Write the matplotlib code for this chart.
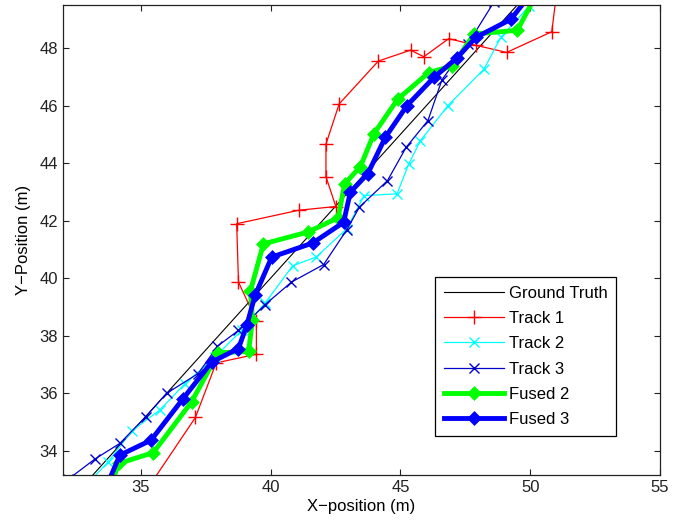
import matplotlib
matplotlib.use("Agg")
import matplotlib.pyplot as plt

plt.rcParams["font.family"] = ["Liberation Sans", "DejaVu Sans"]
plt.rcParams["font.size"] = 12

# ground truth (straight diagonal)
truth_x = [32.0, 51.0]
truth_y = [32.0, 51.0]

track1_x = [35.2, 37.1, 37.9, 39.45, 39.45, 38.76, 38.69, 41.08, 42.51, 42.13, 42.13,
            42.64, 44.15, 45.39, 45.9, 46.86, 47.9, 49.09, 50.83, 51.0]
track1_y = [32.6, 35.15, 37.05, 37.35, 38.52, 39.86, 41.89, 42.36, 42.49, 43.53, 44.66,
            46.06, 47.55, 47.93, 47.7, 48.33, 48.1, 47.85, 48.57, 49.8]

track2_x = [32.9, 33.74, 34.64, 35.73, 36.7, 37.85, 38.9, 39.8, 40.85, 41.75, 42.94,
            43.6, 44.87, 45.32, 45.77, 46.83, 48.22, 48.86, 49.95]
track2_y = [32.8, 33.61, 34.68, 35.41, 36.33, 37.25, 38.2, 39.15, 40.43, 40.73, 41.72,
            42.87, 42.93, 43.97, 44.78, 46.0, 47.27, 48.37, 49.45]

track3_x = [32.2, 33.22, 34.19, 35.18, 35.99, 37.21, 37.95, 38.76, 39.79, 40.8, 42.04,
            42.94, 43.42, 44.5, 45.22, 46.06, 46.6, 47.6, 48.6]
track3_y = [33.0, 33.7, 34.25, 35.17, 35.99, 36.68, 37.63, 38.18, 39.08, 39.86, 40.47,
            41.69, 42.47, 43.39, 44.55, 45.48, 46.9, 48.15, 49.6]

fused2_x = [33.8, 34.15, 35.48, 36.95, 37.98, 39.15, 39.3, 39.22, 39.72, 41.43, 42.6,
            42.85, 43.46, 43.97, 44.89, 46.09, 47.0, 47.83, 49.5, 50.2]
fused2_y = [32.7, 33.55, 33.93, 35.69, 37.4, 37.45, 38.55, 39.55, 41.19, 41.6, 42.1,
            43.28, 43.88, 45.01, 46.22, 47.15, 47.38, 48.49, 48.62, 49.8]

fused3_x = [33.6, 34.19, 35.39, 36.63, 37.73, 38.76, 39.08, 39.4, 40.04, 41.62, 42.81,
            43.07, 43.74, 44.42, 45.25, 46.29, 47.19, 47.9, 49.25, 50.3]
fused3_y = [32.6, 33.84, 34.36, 35.81, 37.08, 37.55, 38.36, 39.4, 40.73, 41.22, 41.94,
            42.99, 43.63, 44.9, 46.0, 46.98, 47.67, 48.37, 49.0, 50.2]

fig = plt.figure(figsize=(6.88, 5.27), dpi=100)
ax = fig.add_axes([0.0916, 0.0987, 0.8677, 0.8918])

ax.plot(truth_x, truth_y, color="black", lw=0.8, label="Ground Truth")
ax.plot(track1_x, track1_y, color="#ff0000", lw=0.9, marker="+", ms=10, mew=1.0,
        label="Track 1")
ax.plot(track2_x, track2_y, color="#00ffff", lw=0.9, marker="x", ms=6.5, mew=1.0,
        label="Track 2")
ax.plot(track3_x, track3_y, color="#0000cc", lw=0.9, marker="x", ms=6.5, mew=1.0,
        label="Track 3")
ax.plot(fused2_x, fused2_y, color="#00ff00", lw=3.5, marker="D", ms=5.5, mew=2.5,
        mfc="#00ff00", label="Fused 2")
ax.plot(fused3_x, fused3_y, color="#0000ff", lw=3.5, marker="D", ms=5.5, mew=2.5,
        mfc="#0000ff", label="Fused 3")

ax.set_xlim(32, 55)
ax.set_ylim(33.15, 49.5)
ax.set_xticks([35, 40, 45, 50, 55])
ax.set_yticks([34, 36, 38, 40, 42, 44, 46, 48])
ax.tick_params(direction="in", length=4.5, width=0.8, top=True, right=True,
               labelsize=12, colors="#222222")
for s in ax.spines.values():
    s.set_linewidth(0.9)
    s.set_color("#222222")

ax.set_xlabel("X\u2212position (m)", fontsize=12, labelpad=3)
ax.set_ylabel("Y\u2212Position (m)", fontsize=12, labelpad=6)

leg = ax.legend(loc="upper right", bbox_to_anchor=(0.927, 0.4206), fontsize=12,
                fancybox=False, framealpha=1, edgecolor="black",
                handlelength=3.6, labelspacing=0.62, borderpad=0.5,
                handletextpad=0.35, borderaxespad=0)
leg.get_frame().set_linewidth(0.9)

fig.savefig("out.png", dpi=100)
